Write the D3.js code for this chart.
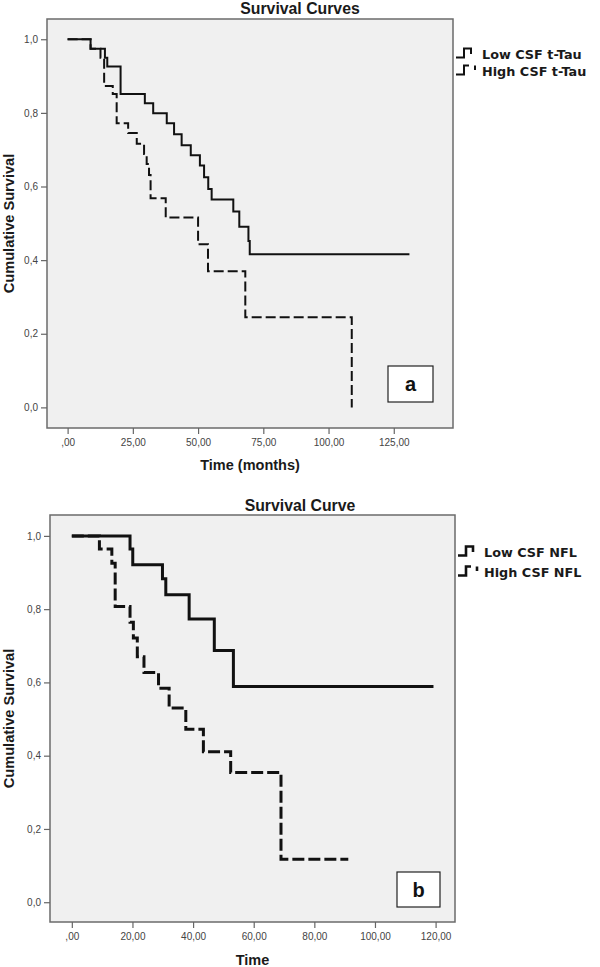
<!DOCTYPE html>
<html><head><meta charset="utf-8">
<script src="https://cdn.jsdelivr.net/npm/d3@7/dist/d3.min.js"></script>
<style>
html,body{margin:0;padding:0;background:#fff;}
svg{display:block;}
</style></head>
<body>
<svg id="chart" width="600" height="967"></svg>
<script>
// ---------- DATA ----------
// Panel a: CSF t-Tau
const tauLowTimes = [0, 8.8, 14.3, 15.2, 20.3, 29.6, 32.8, 38.0, 40.8, 43.7, 47.2, 50.7, 52.3, 53.9, 55.2, 63.5, 65.8, 69.3, 69.8, 131];
const tauLowSurv  = [1, 0.974, 0.95, 0.926, 0.851, 0.826, 0.799, 0.772, 0.742, 0.712, 0.685, 0.657, 0.625, 0.593, 0.565, 0.532, 0.491, 0.452, 0.416, 0.416];
const tauHighTimes = [0, 8.8, 12.6, 14.0, 17.3, 18.8, 23.2, 26.5, 29.3, 30.3, 31.2, 31.8, 37.6, 50.0, 53.8, 68.1, 108.9];
const tauHighSurv  = [1, 0.974, 0.95, 0.873, 0.851, 0.772, 0.745, 0.716, 0.688, 0.661, 0.631, 0.568, 0.516, 0.443, 0.370, 0.245, 0.0];
// Panel b: CSF NFL
const nflLowTimes = [0, 19.2, 20.1, 29.9, 31.0, 38.7, 47.0, 53.3, 119.3];
const nflLowSurv  = [1, 0.964, 0.921, 0.883, 0.839, 0.773, 0.687, 0.589, 0.589];
const nflHighTimes = [0, 9.1, 13.2, 14.3, 19.2, 20.3, 21.6, 23.8, 28.6, 32.1, 37.6, 43.4, 52.4, 69.0, 91.2];
const nflHighSurv  = [1, 0.964, 0.925, 0.807, 0.764, 0.721, 0.670, 0.627, 0.584, 0.530, 0.472, 0.411, 0.354, 0.117, 0.117];

const yTickValues = [0, 0.2, 0.4, 0.6, 0.8, 1.0];
const yTickLabels = ["0,0", "0,2", "0,4", "0,6", "0,8", "1,0"];
const tauXTickValues = [0, 25, 50, 75, 100, 125];
const tauXTickLabels = [",00", "25,00", "50,00", "75,00", "100,00", "125,00"];
const nflXTickValues = [0, 20, 40, 60, 80, 100, 120];
const nflXTickLabels = [",00", "20,00", "40,00", "60,00", "80,00", "100,00", "120,00"];

const panels = [
  {
    title: "Survival Curves", xTitle: "Time (months)", yTitle: "Cumulative Survival", letter: "a",
    frame: {x0: 47, x1: 453, y0: 19, y1: 428},
    xDomain: [-7.9, 147.7], yDomain: [-0.056, 1.055],
    xTicks: tauXTickValues, xLabels: tauXTickLabels,
    titleY: 14, xTitleY: 470, strokeW: 2, dash: "10,4",
    series: [
      {name: "Low CSF t-Tau", t: tauLowTimes, s: tauLowSurv, dashed: false},
      {name: "High CSF t-Tau", t: tauHighTimes, s: tauHighSurv, dashed: true}
    ],
    legendY: [59, 76],
    box: {x: 388, y: 366, w: 45, h: 36}
  },
  {
    title: "Survival Curve", xTitle: "Time", yTitle: "Cumulative Survival", letter: "b",
    frame: {x0: 50, x1: 455, y0: 515, y1: 922},
    xDomain: [-7.2, 126.4], yDomain: [-0.054, 1.057],
    xTicks: nflXTickValues, xLabels: nflXTickLabels,
    titleY: 511, xTitleY: 965, strokeW: 3, dash: "12,4",
    series: [
      {name: "Low CSF NFL", t: nflLowTimes, s: nflLowSurv, dashed: false},
      {name: "High CSF NFL", t: nflHighTimes, s: nflHighSurv, dashed: true}
    ],
    legendY: [557, 577],
    box: {x: 397, y: 872, w: 43, h: 35}
  }
];

const svg = d3.select("#chart");
const tickFont = "'Liberation Sans', Arial, sans-serif";

panels.forEach(p => {
  const f = p.frame;
  const x = d3.scaleLinear().domain(p.xDomain).range([f.x0, f.x1]);
  const y = d3.scaleLinear().domain(p.yDomain).range([f.y1, f.y0]);
  const g = svg.append("g");

  // frame
  g.append("rect").attr("x", f.x0).attr("y", f.y0)
    .attr("width", f.x1 - f.x0).attr("height", f.y1 - f.y0)
    .attr("fill", "#f0f0f0").attr("stroke", "#6b6b6b").attr("stroke-width", 1.5);

  // y axis
  const yAxis = d3.axisLeft(y).tickValues(yTickValues).tickSize(6).tickPadding(3)
    .tickFormat((d, i) => yTickLabels[i]);
  const ya = g.append("g").attr("transform", `translate(${f.x0},0)`).call(yAxis);
  ya.select(".domain").remove();
  ya.selectAll("line").attr("stroke", "#666").attr("stroke-width", 1.2);
  ya.selectAll("text").attr("fill", "#444").style("font-family", tickFont).style("font-size", "10px");

  // x axis
  const xAxis = d3.axisBottom(x).tickValues(p.xTicks).tickSize(6).tickPadding(5)
    .tickFormat((d, i) => p.xLabels[i]);
  const xa = g.append("g").attr("transform", `translate(0,${f.y1})`).call(xAxis);
  xa.select(".domain").remove();
  xa.selectAll("line").attr("stroke", "#666").attr("stroke-width", 1.2);
  xa.selectAll("text").attr("fill", "#444").style("font-family", tickFont).style("font-size", "10px");

  // titles
  g.append("text").attr("x", 300).attr("y", p.titleY).attr("text-anchor", "middle")
    .style("font-family", tickFont).style("font-weight", "bold").style("font-size", "15.8px")
    .attr("fill", "#1a1a1a").text(p.title);
  g.append("text").attr("x", (f.x0 + f.x1) / 2).attr("y", p.xTitleY).attr("text-anchor", "middle")
    .style("font-family", tickFont).style("font-weight", "bold").style("font-size", "14.5px")
    .attr("fill", "#1a1a1a").text(p.xTitle);
  g.append("text")
    .attr("transform", `translate(13.5,${(f.y0 + f.y1) / 2}) rotate(-90)`)
    .attr("text-anchor", "middle")
    .style("font-family", tickFont).style("font-weight", "bold").style("font-size", "14.6px")
    .attr("fill", "#1a1a1a").text(p.yTitle);

  // curves
  const line = d3.line().x(d => x(d[0])).y(d => y(d[1])).curve(d3.curveStepAfter);
  p.series.forEach(s => {
    const pts = s.t.map((t, i) => [t, s.s[i]]);
    g.append("path").attr("d", line(pts))
      .attr("fill", "none").attr("stroke", "#111")
      .attr("stroke-width", p.strokeW)
      .attr("stroke-dasharray", s.dashed ? p.dash : null);
  });

  // letter box
  g.append("rect").attr("x", p.box.x).attr("y", p.box.y).attr("width", p.box.w).attr("height", p.box.h)
    .attr("fill", "#fff").attr("stroke", "#222").attr("stroke-width", 1.2);
  g.append("text").attr("x", p.box.x + p.box.w / 2).attr("y", p.box.y + p.box.h / 2 + 7)
    .attr("text-anchor", "middle")
    .style("font-family", tickFont).style("font-weight", "bold").style("font-size", "20px")
    .attr("fill", "#111").text(p.letter);

  // legend
  const lx = f.x1 + 3;
  const lw = p.strokeW === 3 ? 2.6 : 2;
  p.series.forEach((s, i) => {
    const by = p.legendY[i];
    const low = by - 1.5, high = by - 10.5;
    if (!s.dashed) {
      g.append("path").attr("d", `M${lx},${low} H${lx + 8} V${high} H${lx + 15} V${by - 5}`)
        .attr("fill", "none").attr("stroke", "#111").attr("stroke-width", lw);
    } else {
      g.append("path").attr("d", `M${lx},${low} H${lx + 8} V${high} H${lx + 13}`)
        .attr("fill", "none").attr("stroke", "#111").attr("stroke-width", lw);
      g.append("path").attr("d", `M${lx + 19},${high} V${high + 4.5}`)
        .attr("fill", "none").attr("stroke", "#111").attr("stroke-width", lw);
    }
    g.append("text").attr("x", lx + 26).attr("y", by)
      .style("font-family", "'DejaVu Sans', Verdana, sans-serif").style("font-weight", "bold")
      .style("font-size", "12.8px").attr("fill", "#1a1a1a").text(s.name);
  });
});
</script>
</body></html>
